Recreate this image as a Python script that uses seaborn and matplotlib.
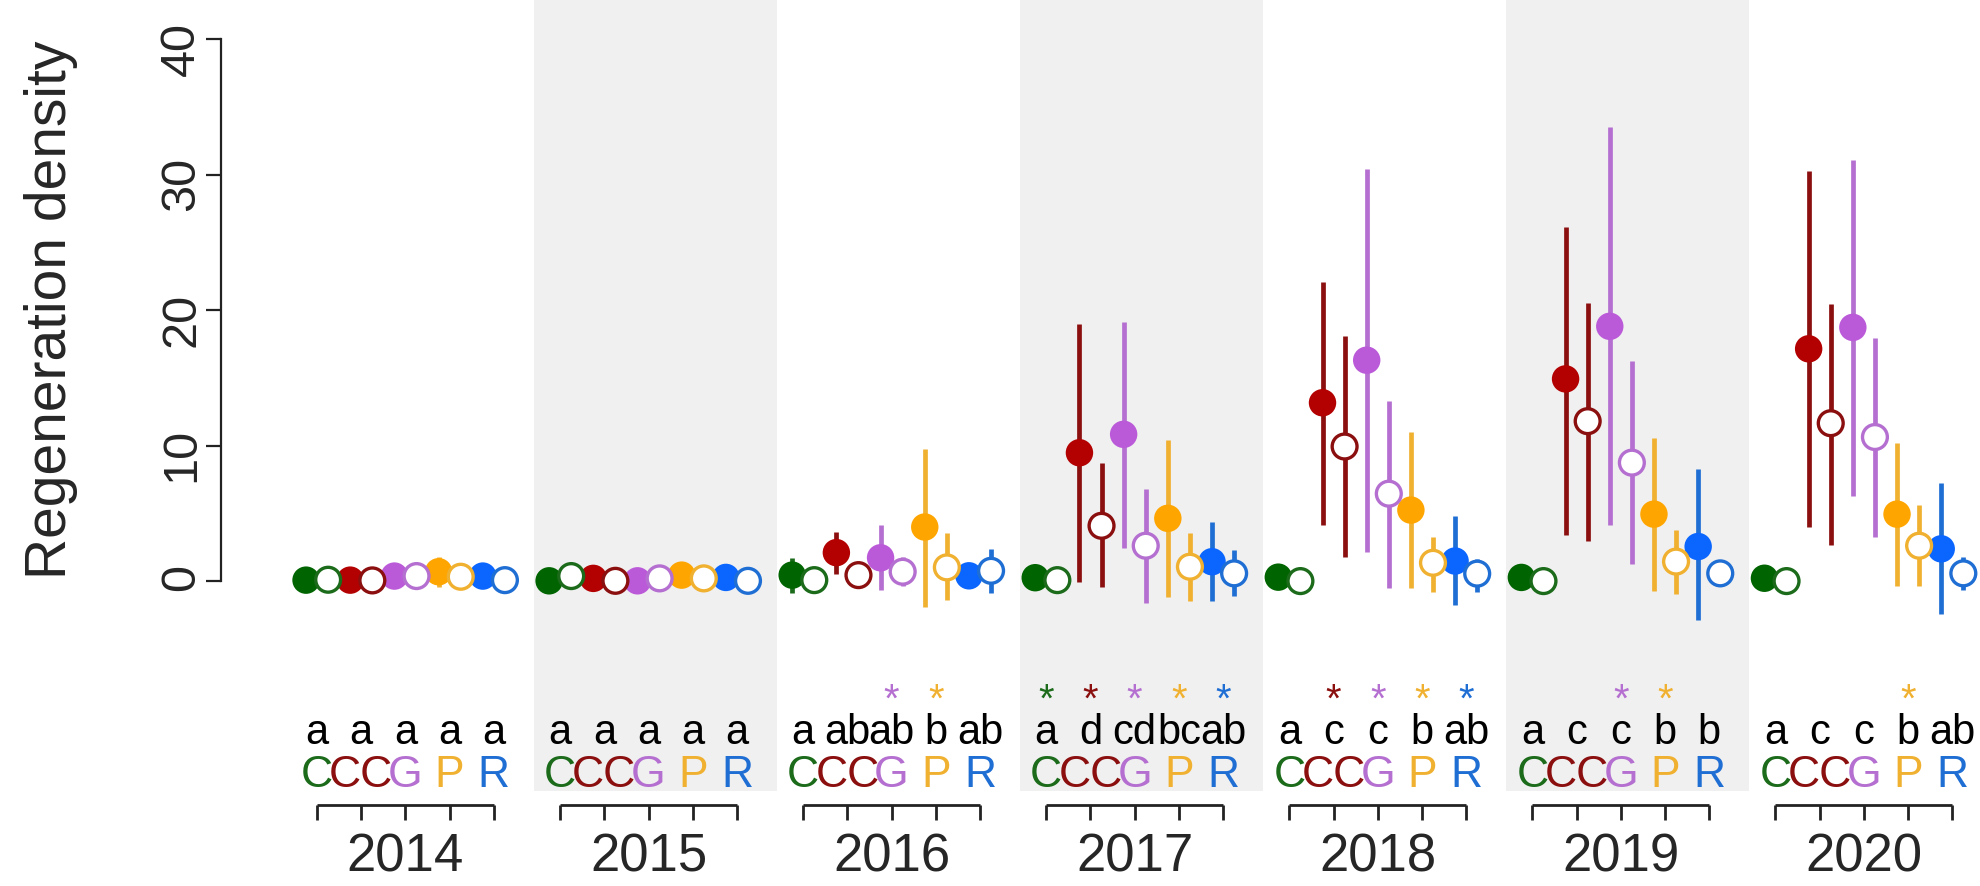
import numpy as np
import pandas as pd
import matplotlib
matplotlib.use("Agg")
import matplotlib.pyplot as plt
import seaborn as sns

years = [2014, 2015, 2016, 2017, 2018, 2019, 2020]
treatments = ["C", "CC", "G", "P", "R"]
# point order inside a year: C filled, C open, CC filled, CC open, G filled, G open,
# P filled, P open, R filled, R open
mean_2014 = [0.07, 0.10, 0.07, 0.05, 0.37, 0.37, 0.69, 0.32, 0.37, 0.07]
lo_2014 = [0.07, 0.10, 0.07, 0.05, 0.37, 0.37, -0.40, 0.32, 0.37, 0.07]
hi_2014 = [0.07, 0.10, 0.07, 0.05, 0.37, 0.37, 1.80, 0.32, 0.37, 0.07]

mean_2015 = [0.02, 0.37, 0.20, 0.02, 0.02, 0.20, 0.44, 0.20, 0.27, 0.02]
lo_2015 = mean_2015
hi_2015 = mean_2015

mean_2016 = [0.44, 0.07, 2.10, 0.44, 1.72, 0.69, 3.99, 1.01, 0.39, 0.76]
lo_2016 = [-0.91, 0.07, 0.52, 0.44, -0.66, -0.37, -1.90, -1.40, 0.39, -0.91]
hi_2016 = [1.68, 0.07, 3.60, 0.44, 4.13, 1.80, 9.74, 3.52, 0.39, 2.36]

mean_2017 = [0.25, 0.07, 9.47, 4.08, 10.83, 2.61, 4.63, 1.06, 1.43, 0.57]
lo_2017 = [0.25, 0.07, -0.10, -0.47, 2.46, -1.65, -1.16, -1.45, -1.50, -1.10]
hi_2017 = [0.25, 0.07, 18.97, 8.69, 19.14, 6.77, 10.40, 3.57, 4.33, 2.29]

mean_2018 = [0.29, 0.00, 13.16, 9.93, 16.30, 6.45, 5.24, 1.35, 1.48, 0.55]
lo_2018 = [0.29, 0.00, 4.17, 1.75, 2.15, -0.48, -0.53, -0.80, -1.73, -0.80]
hi_2018 = [0.29, 0.00, 22.07, 18.12, 30.38, 13.29, 11.01, 3.23, 4.83, 1.62]

mean_2019 = [0.27, 0.00, 14.92, 11.80, 18.80, 8.74, 4.94, 1.44, 2.55, 0.57]
lo_2019 = [0.27, 0.00, 3.42, 2.96, 4.13, 1.29, -0.75, -0.95, -2.90, 0.57]
hi_2019 = [0.27, 0.00, 26.10, 20.55, 33.50, 16.27, 10.54, 3.77, 8.30, 0.57]

mean_2020 = [0.21, 0.00, 17.14, 11.65, 18.72, 10.63, 4.94, 2.61, 2.38, 0.57]
lo_2020 = [0.21, 0.00, 3.98, 2.70, 6.26, 3.25, -0.37, -0.37, -2.41, -0.66]
hi_2020 = [0.21, 0.00, 30.27, 20.47, 31.06, 17.93, 10.19, 5.59, 7.22, 1.79]

letters = [
    ["a", "a", "a", "a", "a"],
    ["a", "a", "a", "a", "a"],
    ["a", "ab", "ab", "b", "ab"],
    ["a", "d", "cd", "bc", "ab"],
    ["a", "c", "c", "b", "ab"],
    ["a", "c", "c", "b", "b"],
    ["a", "c", "c", "b", "ab"],
]
stars = [
    [0, 0, 0, 0, 0],
    [0, 0, 0, 0, 0],
    [0, 0, 1, 1, 0],
    [1, 1, 1, 1, 1],
    [0, 1, 1, 1, 1],
    [0, 0, 1, 1, 0],
    [0, 0, 0, 1, 0],
]

fill_col = {"C": "#006400", "CC": "#b30000", "G": "#bb5ad8", "P": "#ffa500", "R": "#0a66ff"}
line_col = {"C": "#1b6b1b", "CC": "#8b0f0f", "G": "#b46fd0", "P": "#f0b030", "R": "#1f6ed4"}

means = [mean_2014, mean_2015, mean_2016, mean_2017, mean_2018, mean_2019, mean_2020]
lows = [lo_2014, lo_2015, lo_2016, lo_2017, lo_2018, lo_2019, lo_2020]
highs = [hi_2014, hi_2015, hi_2016, hi_2017, hi_2018, hi_2019, hi_2020]

rows = []
for i, yr in enumerate(years):
    for j in range(10):
        rows.append({"year": yr, "trt": treatments[j // 2], "filled": j % 2 == 0,
                     "x": 11 * i + j, "mean": means[i][j], "lo": lows[i][j], "hi": highs[i][j]})
df = pd.DataFrame(rows)

sns.set_theme(style="white")
plt.rcParams['font.family'] = ['Liberation Sans', 'DejaVu Sans']

fig, ax = plt.subplots(figsize=(19.81, 8.86), dpi=100)
ax.set_position([0, 0, 1, 1])
xlo, xhi = -13.85, 75.8
ylo, yhi = -22.5, 42.88
ax.set_xlim(xlo, xhi)
ax.set_ylim(ylo, yhi)

# shaded years
band_bottom = -15.5
for i in (1, 3, 5):
    ax.axvspan(11 * i - 0.7, 11 * i + 10.3, ymin=(band_bottom - ylo) / (yhi - ylo), ymax=1,
               color="#f0f0f0", lw=0, zorder=0)

# error bars
ax.vlines(df["x"], df["lo"], df["hi"], colors=df["trt"].map(line_col), lw=3.4, zorder=2)

# filled points
sns.scatterplot(data=df[df["filled"]], x="x", y="mean", hue="trt", palette=fill_col,
                s=390, linewidth=0, legend=False, ax=ax, zorder=3)
# open points
sns.scatterplot(data=df[~df["filled"]], x="x", y="mean", hue="trt", palette=line_col,
                s=320, linewidth=2.4, legend=False, ax=ax, zorder=3)
coll = ax.collections[-1]
coll.set_edgecolors(coll.get_facecolors())
coll.set_facecolors("white")

# labels under each year
for i, yr in enumerate(years):
    ticks = [11 * i + 2 * k + 0.5 for k in range(5)]
    for k, t in enumerate(treatments):
        ax.text(ticks[k], -15.2, t, color=line_col[t], fontsize=32, ha="center", va="baseline")
        ax.text(ticks[k], -12.0, letters[i][k], color="black", fontsize=30, ha="center", va="baseline")
        if stars[i][k]:
            ax.text(ticks[k], -9.6, "*", color=line_col[t], fontsize=29, ha="center", va="baseline")
    ax.hlines(-16.5, ticks[0], ticks[-1], color="#222222", lw=2)
    ax.vlines(ticks, -17.6, -16.5, color="#222222", lw=2)
    ax.text(ticks[2], -21.4, str(yr), fontsize=38, ha="center", va="baseline")

# y axis
for s in ["top", "right", "bottom"]:
    ax.spines[s].set_visible(False)
ax.spines["left"].set_position(("data", -3.85))
ax.spines["left"].set_bounds(0, 40)
ax.spines["left"].set_linewidth(1.6)
ax.spines["left"].set_color("#222222")
ax.set_xticks([])
ax.set_yticks([0, 10, 20, 30, 40])
ax.tick_params(axis="y", left=True, direction="out", length=11, width=1.6, color="#222222",
               labelsize=35, pad=1, labelrotation=90)
ax.set_xlabel("")
ax.set_ylabel("Regeneration density", fontsize=41)
ax.yaxis.set_label_coords(78 / 1981, (20 - ylo) / (yhi - ylo))

fig.savefig("out.png", dpi=100)
